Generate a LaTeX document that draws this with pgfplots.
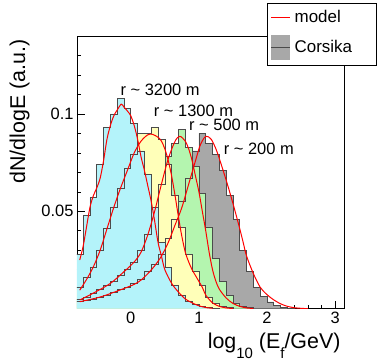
\documentclass[border=0pt]{standalone}
\usepackage{pgfplots}
\pgfplotsset{compat=1.18}
\usepackage{pgfplotstable}
\usepackage{fontspec}
\setmainfont{Liberation Sans}
\definecolor{cyanf}{RGB}{180,243,250}
\definecolor{yellowf}{RGB}{255,255,185}
\definecolor{greenf}{RGB}{180,245,175}
\definecolor{grayf}{RGB}{168,168,168}
\definecolor{edge}{RGB}{75,75,75}
\definecolor{modelred}{RGB}{255,0,0}
\newcommand{\fs}{\fontsize{16.5}{19}\selectfont}
\newcommand{\fl}{\fontsize{21.5}{24}\selectfont}

\pgfplotstableread{
x y
-0.8 0.028
-0.7 0.048
-0.6 0.057
-0.5 0.074
-0.4 0.093
-0.3 0.100
-0.2 0.108
-0.1 0.103
0.0 0.095
0.1 0.081
0.2 0.069
0.3 0.052
0.4 0.034
0.5 0.021
0.6 0.012
0.7 0.007
0.8 0.004
0.9 0.002
1.0 0.001
1.1 0.0005
1.2 0.0002
1.3 0
}\cyanh

\pgfplotstableread{
x y
-0.8 0.011
-0.7 0.016
-0.6 0.021
-0.5 0.030
-0.4 0.041
-0.3 0.052
-0.2 0.062
-0.1 0.072
0.0 0.079
0.1 0.090
0.2 0.090
0.3 0.093
0.4 0.087
0.5 0.074
0.6 0.058
0.7 0.042
0.8 0.028
0.9 0.019
1.0 0.012
1.1 0.006
1.2 0.003
1.3 0.0012
1.4 0.0005
1.5 0
}\yellowh

\pgfplotstableread{
x y
-0.8 0.005
-0.7 0.006
-0.6 0.008
-0.5 0.010
-0.4 0.012
-0.3 0.014
-0.2 0.017
-0.1 0.020
0.0 0.024
0.1 0.030
0.2 0.038
0.3 0.052
0.4 0.064
0.5 0.078
0.6 0.085
0.7 0.092
0.8 0.083
0.9 0.073
1.0 0.059
1.1 0.042
1.2 0.026
1.3 0.014
1.4 0.007
1.5 0.003
1.6 0.0012
1.7 0.0005
1.8 0
}\greenh

\pgfplotstableread{
x y
-0.8 0.004
-0.7 0.0045
-0.6 0.005
-0.5 0.006
-0.4 0.007
-0.3 0.0085
-0.2 0.010
-0.1 0.011
0.0 0.013
0.1 0.015
0.2 0.019
0.3 0.023
0.4 0.028
0.5 0.036
0.6 0.046
0.7 0.055
0.8 0.067
0.9 0.081
1.0 0.090
1.1 0.085
1.2 0.079
1.3 0.071
1.4 0.058
1.5 0.046
1.6 0.030
1.7 0.019
1.8 0.011
1.9 0.0065
2.0 0.0035
2.1 0.0018
2.2 0.0008
2.3 0.0003
2.4 0
}\grayh

\begin{document}
\begin{tikzpicture}
\useasboundingbox (-77bp,-54.3bp) rectangle (305bp,308.7bp);
\begin{axis}[
  at={(0,0)}, anchor=south west,
  scale only axis, width=267bp, height=272.7bp,
  xmin=-0.79, xmax=3.13, ymin=0, ymax=0.14,
  axis line style={line width=0.8bp},
  tick align=inside, tick pos=left,
  xtick={0,1,2,3},
  minor xtick={-0.6,-0.4,-0.2,0.2,0.4,0.6,0.8,1.2,1.4,1.6,1.8,2.2,2.4,2.6,2.8},
  ytick={0.05,0.1},
  minor ytick={0.01,0.02,0.03,0.04,0.06,0.07,0.08,0.09,0.11,0.12,0.13},
  major tick length=8bp, minor tick length=4bp,
  every tick/.style={line width=0.6bp, black},
  /pgf/number format/assume math mode=true,
  yticklabel style={/pgf/number format/fixed, /pgf/number format/precision=2},
  ticklabel style={font=\fs},
  every axis y label/.style={at={(axis description cs:-0.215,1)}, rotate=90, anchor=east, font=\fl},
  every axis x label/.style={at={(axis description cs:1,-0.137)}, anchor=east, font=\fl},
  ylabel={dN/dlogE (a.u.)},
  xlabel={log\raisebox{-0.45em}{\fontsize{15}{15}\selectfont 10} (E\raisebox{-0.45em}{\fontsize{15}{15}\selectfont f}/GeV)},
  legend style={at={(axis description cs:1.1236,1.121)}, anchor=north east, draw=black, line width=0.6bp, fill=white, font=\fontsize{17}{19}\selectfont, inner xsep=3bp, inner ysep=5bp, row sep=9bp, column sep=2bp},
  legend cell align=left,
]
\addlegendimage{draw=modelred, line width=1.2bp, legend image code/.code={\path[draw=modelred, fill=none, line width=1.2bp] (0bp,0bp) -- (19bp,0bp);}}
\addlegendentry{\makebox[77bp][l]{model}}
\addlegendimage{legend image code/.code={\path[fill=grayf, draw=none] (0bp,-12.5bp) rectangle (19bp,12.5bp); \path[draw=edge, fill=none, line width=0.8bp] (0bp,0bp) -- (19bp,0bp);}}
\addlegendentry{\makebox[77bp][l]{Corsika}}

\addplot[const plot, fill=grayf, draw=none, forget plot] table {\grayh} \closedcycle;
\addplot[const plot, fill=greenf, draw=none, forget plot] table {\greenh} \closedcycle;
\addplot[const plot, fill=yellowf, draw=none, forget plot] table {\yellowh} \closedcycle;
\addplot[const plot, fill=cyanf, draw=none, forget plot] table {\cyanh} \closedcycle;

\addplot[const plot, draw=edge, line width=0.7bp, forget plot] table {\grayh};
\addplot[const plot, draw=edge, line width=0.7bp, forget plot] table {\greenh};
\addplot[const plot, draw=edge, line width=0.7bp, forget plot] table {\yellowh};
\addplot[const plot, draw=edge, line width=0.7bp, forget plot] table {\cyanh};

\addplot[modelred, line width=1.0bp, smooth, forget plot] coordinates {(-0.75,0.025) (-0.7,0.032) (-0.65,0.042) (-0.6,0.052) (-0.55,0.058) (-0.5,0.062) (-0.45,0.067) (-0.4,0.076) (-0.35,0.087) (-0.3,0.094) (-0.25,0.099) (-0.2,0.102) (-0.14,0.105) (-0.1,0.1035) (-0.05,0.1015) (0,0.099) (0.05,0.094) (0.1,0.087) (0.15,0.078) (0.2,0.071) (0.25,0.063) (0.3,0.055) (0.35,0.045) (0.4,0.034) (0.45,0.027) (0.5,0.020) (0.6,0.013) (0.7,0.0085) (0.8,0.005) (0.9,0.003) (1.0,0.0015) (1.1,0.0006) (1.2,0.0002)};
\addplot[modelred, line width=1.0bp, smooth, forget plot] coordinates {(-0.75,0.0095) (-0.65,0.015) (-0.55,0.0215) (-0.45,0.030) (-0.35,0.041) (-0.25,0.052) (-0.15,0.062) (-0.05,0.071) (0.05,0.080) (0.15,0.086) (0.25,0.0893) (0.32,0.0895) (0.4,0.088) (0.45,0.086) (0.5,0.082) (0.55,0.076) (0.6,0.068) (0.65,0.058) (0.7,0.047) (0.75,0.037) (0.8,0.029) (0.85,0.024) (0.9,0.020) (0.95,0.017) (1.0,0.014) (1.05,0.011) (1.1,0.007) (1.2,0.003) (1.3,0.0012) (1.4,0.0004) (1.5,0.0001)};
\addplot[modelred, line width=1.0bp, smooth, forget plot] coordinates {(-0.75,0.0045) (-0.55,0.008) (-0.3,0.013) (-0.1,0.019) (0.05,0.024) (0.15,0.029) (0.25,0.038) (0.35,0.050) (0.45,0.064) (0.55,0.077) (0.65,0.086) (0.72,0.0885) (0.8,0.086) (0.85,0.082) (0.9,0.076) (0.95,0.068) (1.0,0.060) (1.05,0.050) (1.1,0.040) (1.15,0.029) (1.2,0.020) (1.25,0.014) (1.3,0.010) (1.4,0.0055) (1.5,0.0027) (1.6,0.0012) (1.7,0.0004) (1.8,0.0001)};
\addplot[modelred, line width=1.0bp, smooth, forget plot] coordinates {(-0.75,0.0036) (-0.45,0.006) (-0.15,0.0097) (0.05,0.0125) (0.15,0.0147) (0.25,0.018) (0.35,0.022) (0.45,0.027) (0.55,0.034) (0.65,0.043) (0.75,0.052) (0.85,0.064) (0.95,0.076) (1.02,0.084) (1.1,0.0885) (1.18,0.087) (1.25,0.082) (1.3,0.077) (1.4,0.066) (1.5,0.054) (1.6,0.041) (1.65,0.034) (1.7,0.027) (1.8,0.018) (1.9,0.011) (2.0,0.0072) (2.1,0.0045) (2.2,0.0025) (2.3,0.0012) (2.4,0.0005) (2.5,0.0002) (2.6,0)};

\node[font=\fs] at (axis cs:0.43,0.1124) {r \textasciitilde{} 3200 m};
\node[font=\fs] at (axis cs:0.92,0.1017) {r \textasciitilde{} 1300 m};
\node[font=\fs] at (axis cs:1.37,0.0945) {r \textasciitilde{} 500 m};
\node[font=\fs] at (axis cs:1.88,0.0822) {r \textasciitilde{} 200 m};
\end{axis}
\end{tikzpicture}
\end{document}
